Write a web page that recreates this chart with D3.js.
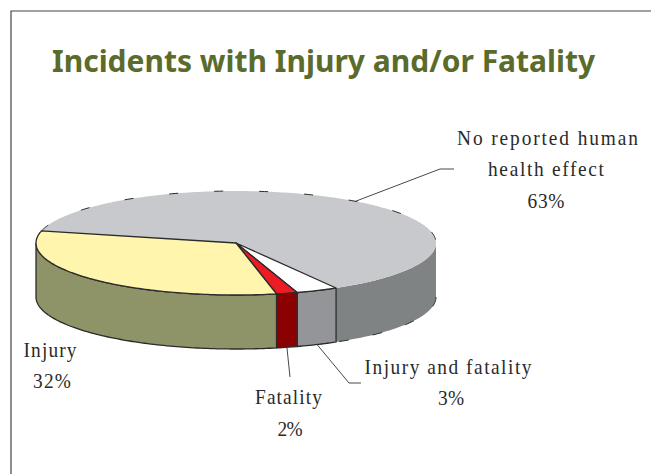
<!DOCTYPE html>
<html>
<head>
<meta charset="utf-8">
<script src="https://cdn.jsdelivr.net/npm/d3@7"></script>
<style>
  html, body { margin: 0; padding: 0; background: #fff; }
  svg { display: block; }
  .label { font-family: "Liberation Serif", serif; font-size: 22px; fill: #2a2a2a; text-anchor: middle; }
  .title { font-family: "Noto Sans", sans-serif; font-weight: 700; font-size: 30px; fill: #5a6b2b; }
</style>
</head>
<body>
<div id="chart"></div>
<script>
const title = "Incidents with Injury and/or Fatality"
const categories = ["No reported human health effect", "Injury and fatality", "Fatality", "Injury"]
// slice sizes as measured on the picture, the printed labels are rounded
const values = [63, 3.4, 1.7, 32]
const top_colors = ["#c8c9cd", "#ffffff", "#ed1c24", "#fff5ad"]
const side_colors = ["#808383", "#939598", "#8b0000", "#8e9368"]
const label_lines = [["No reported human", "health effect", "63%"], ["Injury and fatality", "3%"], ["Fatality", "2%"], ["Injury", "32%"]]

const width = 651
const height = 474
const cx = 236
const cy = 243
const rx = 200
const ry = 52
const depth = 54
const deg = Math.PI / 180
const squeeze = 0.88

var svg = d3.select("#chart").append("svg")
  .attr("width", width)
  .attr("height", height)

// Frame, open on the right and at the bottom like the scan
svg.append("path")
  .attr("d", d3.line()([[width, 11], [11, 11], [11, height]]))
  .attr("fill", "none")
  .attr("stroke", "#444")
  .attr("stroke-width", 1.2)

svg.append("text")
  .attr("class", "title")
  .attr("x", 52)
  .attr("y", 72)
  .text(title)

// Pie angles, the flat ellipse is a projection of them
const pie = d3.pie().sort(null).startAngle(-76.6 * deg).endAngle((360 - 76.6) * deg)
const slices = pie(values)

const px = a => cx + rx * Math.sin(a)
const py = a => cy - ry * Math.cos(a)

function rim(a0, a1, dy) {
  const n = Math.max(2, Math.ceil((a1 - a0) / deg))
  return d3.range(n + 1).map(i => {
    const a = a0 + (a1 - a0) * i / n
    return [px(a), py(a) + dy]
  })
}

const line = d3.line()
const wall_start = 90 * deg
const wall_end = 270 * deg

// Side walls, front half only
var walls = svg.append("g")
slices.forEach((s, i) => {
  const a0 = Math.max(s.startAngle, wall_start)
  const a1 = Math.min(s.endAngle, wall_end)
  if (a1 <= a0) return
  walls.append("path")
    .attr("d", line(rim(a0, a1, 0).concat(rim(a0, a1, depth).reverse())) + "Z")
    .attr("fill", side_colors[i])
    .attr("stroke", i === 0 ? "none" : "#2b2b2b")
    .attr("stroke-width", 1.3)
})
// Patchy outline on the grey wall bottom
walls.append("path")
  .attr("d", line(rim(wall_start, slices[0].endAngle, depth)))
  .attr("fill", "none")
  .attr("stroke", "#2b2b2b")
  .attr("stroke-width", 1)
  .attr("stroke-dasharray", "10 24")

// Top faces
var tops = svg.append("g")
slices.forEach((s, i) => {
  const pts = [[cx, cy]].concat(rim(s.startAngle, s.endAngle, 0))
  tops.append("path")
    .attr("d", line(pts) + "Z")
    .attr("fill", top_colors[i])
    .attr("stroke", i === 0 ? "none" : "#2b2b2b")
    .attr("stroke-width", 1.3)
    .attr("stroke-linejoin", "round")
})
// Patchy outline on the back rim of the grey top
tops.append("path")
  .attr("d", line(rim(slices[0].startAngle, wall_start, 0)))
  .attr("fill", "none")
  .attr("stroke", "#2b2b2b")
  .attr("stroke-width", 1)
  .attr("stroke-dasharray", "9 36")

// Leader lines start at the slice middle, on the rim or on the wall bottom
const mid = s => (s.startAngle + s.endAngle) / 2
const leader_rest = [[[440, 169], [454, 169]], [[349, 383], [361, 383]], [[290, 377]]]
var leader_g = svg.append("g")
leader_rest.forEach((rest, i) => {
  const a = mid(slices[i])
  const dy = i === 0 ? 0 : depth
  leader_g.append("path")
    .attr("d", line([[px(a), py(a) + dy]].concat(rest)))
    .attr("fill", "none")
    .attr("stroke", "#333")
    .attr("stroke-width", 0.9)
})

// Labels, every line squeezed and stretched to its measured width
const label_x = [[547.5, 546, 546], [448, 451], [288.5, 290], [50, 52]]
const label_y = [[145, 176, 208], [374, 405], [404, 436], [357, 388]]
const label_w = [[181, 116, 37], [167, 26], [67, 25], [53, 38]]
var labels = svg.append("g")
label_lines.forEach((lines, i) => {
  lines.forEach((t, j) => {
    labels.append("text")
      .attr("class", "label")
      .attr("transform", `translate(${label_x[i][j]},${label_y[i][j]}) scale(${squeeze},1)`)
      .attr("textLength", label_w[i][j] / squeeze)
      .attr("lengthAdjust", "spacing")
      .text(t)
  })
})
</script>
</body>
</html>
